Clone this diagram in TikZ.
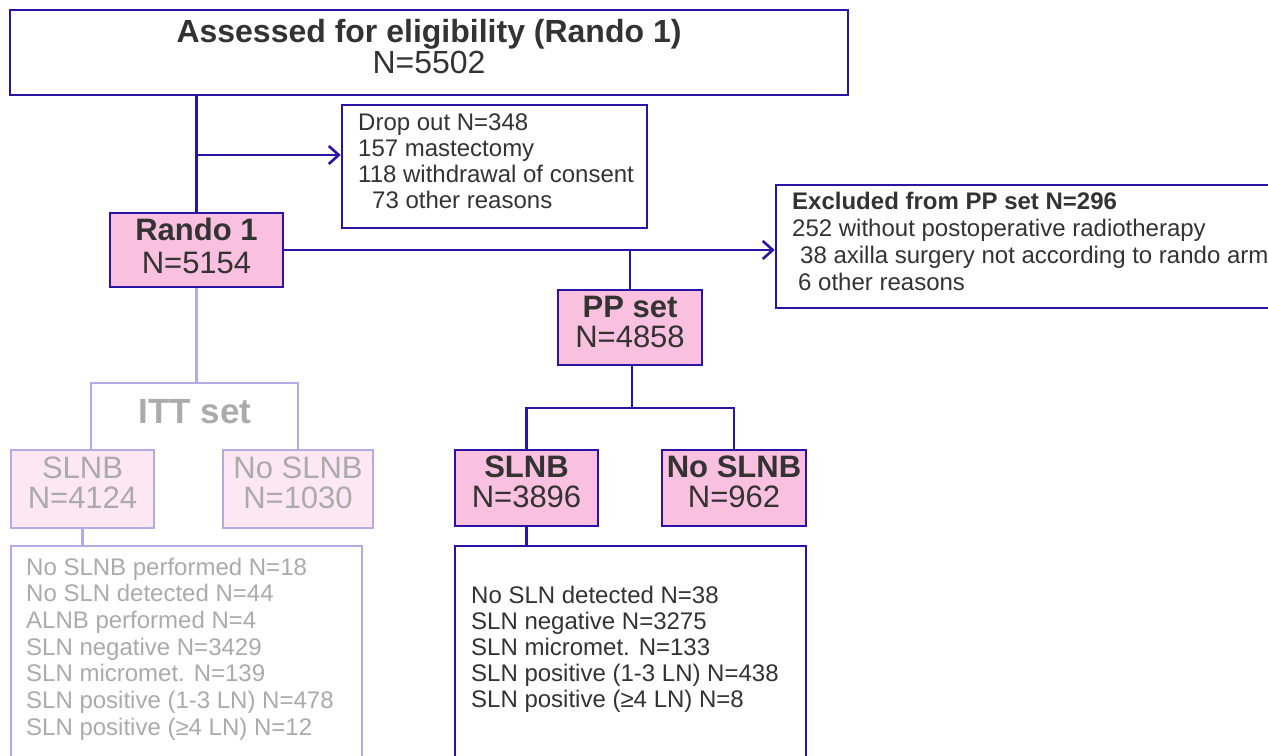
\documentclass[tikz,border=0pt]{standalone}
\usepackage{fontspec}
\setmainfont{Liberation Sans}
\usetikzlibrary{arrows.meta}
\definecolor{dk}{HTML}{2A14A6}
\definecolor{lt}{HTML}{B3ABE3}
\definecolor{pk}{HTML}{F9C0E0}
\definecolor{lpk}{HTML}{FCE7F3}
\definecolor{tx}{HTML}{333333}
\definecolor{gtx}{HTML}{ABABAB}
\tikzset{
  box/.style={draw=dk, line width=2.6pt, rectangle, inner sep=0pt, text=tx},
  pbox/.style={box, fill=pk},
  ptext/.style={inner sep=0pt, align=center, text=tx, font=\fontsize{31}{30}\selectfont},
  fbox/.style={draw=lt, line width=2.6pt, rectangle, inner sep=0pt, fill=lpk},
  ftext/.style={ptext, text=gtx},
  wbox/.style={draw=lt, line width=2.6pt, rectangle, inner sep=0pt, fill=white},
  listtext/.style={anchor=north west, inner sep=0pt, align=left, text=tx, font=\fontsize{24}{26}\selectfont},
  conn/.style={draw=dk, line width=2.6pt},
  fconn/.style={draw=lt, line width=2.6pt},
  arr/.style={-{Straight Barb[length=10pt,width=18pt]}},
}
\begin{document}
\begin{tikzpicture}[x=1pt,y=-1pt]
\useasboundingbox (0,0) rectangle (1268,755);
\clip (0,0) rectangle (1268,755);
\fill[white] (0,0) rectangle (1268,755);

% top box
\node[box, minimum width=838pt, minimum height=85pt] (top) at (429,52.5) {};
\node[ptext, font=\fontsize{32}{29}\selectfont] (toptxt) at ([yshift=6pt]top.center)
  {\textbf{Assessed for eligibility (Rando 1)}\\N=5502};

% drop out
\node[box, minimum width=305pt, minimum height=123pt] (drop) at (494.5,166.5) {};
\node[listtext] (droptxt) at (358,113.4)
  {Drop out N=348\\157 mastectomy\\118 withdrawal of consent\\\hspace*{14pt}73 other reasons};

% rando 1
\node[pbox, minimum width=173pt, minimum height=74pt] (rando) at (196.5,250) {};
\node[ptext, font=\fontsize{31}{33}\selectfont] (randotxt) at ([yshift=4.5pt]rando.center)
  {\textbf{Rando 1}\\N=5154};

% excluded
\node[box, minimum width=520pt, minimum height=123pt] (excl) at (1036,246.5) {};
\node[listtext, font=\fontsize{24}{27}\selectfont] (excltxt) at (792,192.4)
  {\textbf{Excluded from PP set N=296}\\252 without postoperative radiotherapy\\\hspace*{8pt}38 axilla surgery not according to rando arm\\\hspace*{6pt}6 other reasons};

% PP set
\node[pbox, minimum width=144pt, minimum height=75pt] (pp) at (630,327.5) {};
\node[ptext] (pptxt) at ([yshift=6pt]pp.center) {\textbf{PP set}\\N=4858};

% SLNB / No SLNB
\node[pbox, minimum width=143pt, minimum height=76pt] (slnb) at (526.5,488) {};
\node[ptext] (slnbtxt) at ([yshift=6pt]slnb.center) {\textbf{SLNB}\\N=3896};
\node[pbox, minimum width=144pt, minimum height=76pt] (noslnb) at (734,488) {};
\node[ptext] (noslnbtxt) at ([yshift=6pt]noslnb.center) {\textbf{No SLNB}\\N=962};

% result box
\node[box, minimum width=351pt, minimum height=240pt] (res) at (630.5,666) {};
\node[listtext] (restxt) at (471,585.4)
  {No SLN detected N=38\\SLN negative N=3275\\SLN micromet. N=133\\SLN positive (1-3 LN) N=438\\SLN positive (≥4 LN) N=8};

% faded ITT part
\node[text=gtx, font=\fontsize{35}{35}\selectfont\bfseries, inner sep=0pt] (itt) at (195,412) {ITT set};
\node[fbox, minimum width=143pt, minimum height=78pt] (fslnb) at (82.5,489) {};
\node[ftext] (fslnbtxt) at ([yshift=6.5pt]fslnb.center) {SLNB\\N=4124};
\node[fbox, minimum width=150pt, minimum height=78pt] (fno) at (298,489) {};
\node[ftext] (fnotxt) at ([yshift=6.5pt]fno.center) {No SLNB\\N=1030};
\node[wbox, minimum width=351pt, minimum height=240pt] (fres) at (186.5,666) {};
\node[listtext, text=gtx, font=\fontsize{24}{26.67}\selectfont] (frestxt) at (26,557.4)
  {No SLNB performed N=18\\No SLN detected N=44\\ALNB performed N=4\\SLN negative N=3429\\SLN micromet. N=139\\SLN positive (1-3 LN) N=478\\SLN positive (≥4 LN) N=12};

% connectors
\coordinate (dj) at (196.5,155);
\draw[conn] (top.south -| rando.north) -- (rando.north);
\draw[conn, arr] (dj) -- (dj -| drop.west);
\draw[conn, arr] (rando.east) -- (rando.east -| excl.west);
\draw[conn] (pp.north) -- (pp.north |- rando.east);
\coordinate (ppj) at (632,408);
\draw[conn] (pp.south -| ppj) -- (ppj);
\draw[conn] (slnb.north) -- (slnb.north |- ppj) -- (noslnb.north |- ppj) -- (noslnb.north);
\draw[conn] (slnb.south) -- (slnb.south |- res.north);

\coordinate (ittj) at (196.5,383);
\coordinate (fl) at (91,383);
\draw[fconn] (rando.south) -- (ittj);
\draw[fconn] (fl |- fslnb.north) -- (fl) -- (ittj) -- (fno.north |- ittj) -- (fno.north);
\draw[fconn] (fslnb.south) -- (fslnb.south |- fres.north);
\end{tikzpicture}
\end{document}
